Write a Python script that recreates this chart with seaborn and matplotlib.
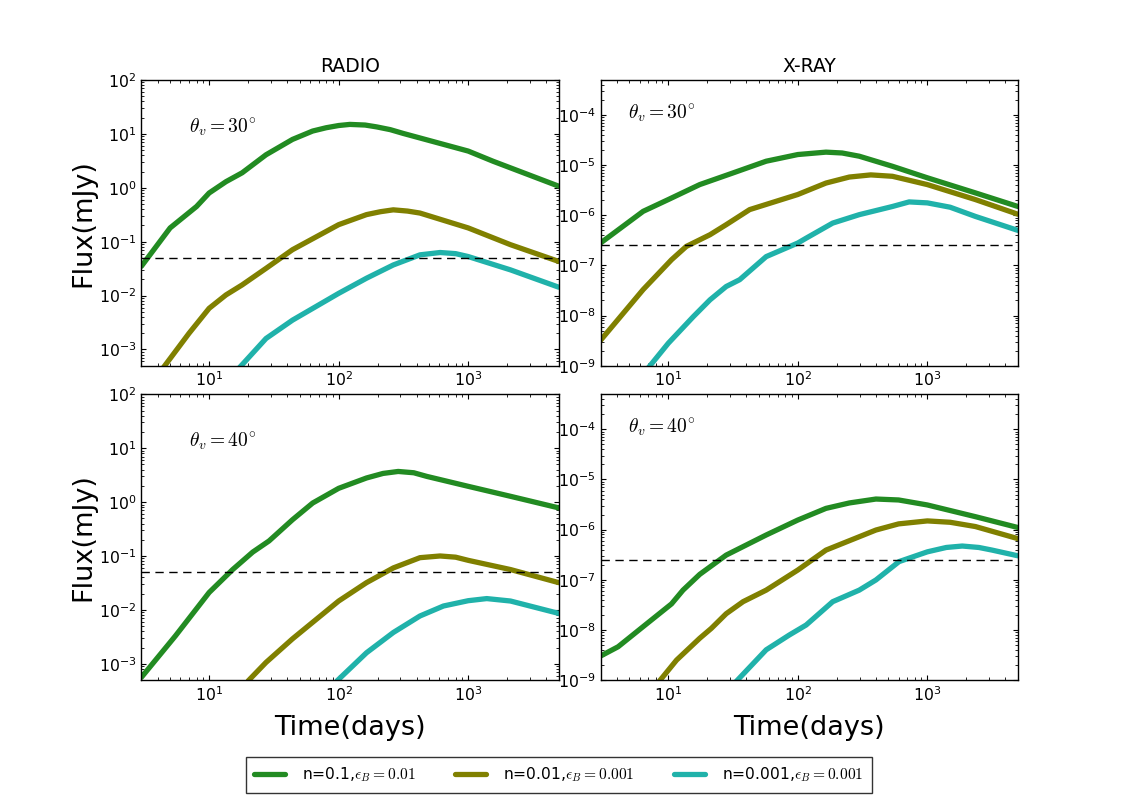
import numpy as np
import pandas as pd
import matplotlib
matplotlib.use("Agg")
import matplotlib.pyplot as plt
import seaborn as sns
from matplotlib.lines import Line2D

# ---------------- data ----------------
series_labels = [r"n=0.1,$\epsilon_B=0.01$", r"n=0.01,$\epsilon_B=0.001$", r"n=0.001,$\epsilon_B=0.001$"]
series_colors = ["#228B22", "#808000", "#20B2AA"]
col_titles = ["RADIO", "X-RAY"]
angle_labels = [r"$\theta_v=30^{\circ}$", r"$\theta_v=40^{\circ}$"]
radio_limit = 0.05
xray_limit = 2.5e-7

# Radio, theta_v = 30 deg
r30_g_t = [3, 5, 8, 10, 13.5, 18, 27.5, 44, 63, 80, 100, 122, 160, 196, 250, 315, 1000, 1560, 2830, 5000]
r30_g_f = [0.035, 0.18, 0.45, 0.8, 1.3, 1.9, 4.1, 7.9, 11.3, 13.0, 14.3, 15, 14.6, 13.5, 12.0, 10.2, 4.8, 3.1, 1.8, 1.07]
r30_o_t = [4.4, 7, 10, 13.5, 18, 27.5, 44, 100, 164, 210, 264, 340, 424, 1000, 2120, 5000]
r30_o_f = [4.5e-4, 2.0e-3, 5.8e-3, 0.0103, 0.0158, 0.032, 0.071, 0.207, 0.318, 0.36, 0.39, 0.37, 0.34, 0.18, 0.088, 0.043]
r30_c_t = [17, 27.5, 44, 100, 164, 264, 424, 607, 800, 1000, 2120, 5000]
r30_c_f = [4.5e-4, 1.6e-3, 3.5e-3, 0.011, 0.021, 0.037, 0.057, 0.063, 0.06, 0.053, 0.030, 0.0143]

# X-ray, theta_v = 30 deg
x30_g_t = [3, 6.4, 10, 17.5, 31.6, 57, 100, 165, 220, 298, 538, 1000, 2350, 5000]
x30_g_f = [2.8e-7, 1.2e-6, 2.06e-6, 4.1e-6, 7.0e-6, 1.2e-5, 1.63e-5, 1.82e-5, 1.75e-5, 1.51e-5, 9.5e-6, 5.6e-6, 2.8e-6, 1.5e-6]
x30_o_t = [3, 6.4, 10.6, 13.8, 21, 28, 42.5, 100, 165, 250, 366, 538, 1000, 2350, 5000]
x30_o_f = [3.2e-9, 3.3e-8, 1.3e-7, 2.4e-7, 4.1e-7, 6.5e-7, 1.3e-6, 2.6e-6, 4.4e-6, 5.8e-6, 6.4e-6, 6.0e-6, 4.1e-6, 2.06e-6, 1.05e-6]
x30_c_t = [7, 10, 15.6, 21, 28, 35.6, 57, 100, 116, 186, 298, 538, 723, 1000, 1500, 2350, 5000]
x30_c_f = [9e-10, 2.8e-9, 9.5e-9, 2.06e-8, 3.8e-8, 5.2e-8, 1.5e-7, 2.8e-7, 3.5e-7, 7.0e-7, 1.03e-6, 1.5e-6, 1.85e-6, 1.77e-6, 1.45e-6, 9.5e-7, 5.0e-7]

# Radio, theta_v = 40 deg
r40_g_t = [3, 5.5, 10, 15.2, 21.7, 29, 44, 63, 100, 164, 220, 288, 380, 478, 1000, 2120, 5000]
r40_g_f = [5.6e-4, 3.3e-3, 0.021, 0.056, 0.118, 0.19, 0.47, 0.96, 1.8, 2.8, 3.4, 3.7, 3.5, 3.0, 1.96, 1.28, 0.78]
r40_o_t = [20, 27.5, 44, 100, 164, 264, 424, 607, 800, 1000, 2120, 5000]
r40_o_f = [4.8e-4, 1.06e-3, 2.9e-3, 0.0146, 0.032, 0.06, 0.093, 0.1, 0.095, 0.083, 0.056, 0.032]
r40_c_t = [97, 164, 264, 424, 644, 1000, 1390, 2120, 5000]
r40_c_f = [4.8e-4, 1.6e-3, 3.8e-3, 7.7e-3, 0.0118, 0.0148, 0.0162, 0.0146, 8.6e-3]

# X-ray, theta_v = 40 deg
x40_g_t = [3, 4.1, 6.4, 10.6, 13, 17.5, 28, 57, 100, 165, 250, 401, 600, 1000, 2350, 5000]
x40_g_f = [3.0e-9, 4.6e-9, 1.16e-8, 3.3e-8, 6.2e-8, 1.28e-7, 3.1e-7, 7.8e-7, 1.55e-6, 2.65e-6, 3.4e-6, 4.07e-6, 3.9e-6, 3.1e-6, 1.81e-6, 1.1e-6]
x40_o_t = [8.4, 11.6, 17.5, 21.5, 28, 37.8, 57, 100, 165, 401, 600, 1000, 1500, 2350, 5000]
x40_o_f = [9e-10, 2.5e-9, 6.8e-9, 1.07e-8, 2.1e-8, 3.65e-8, 6.2e-8, 1.56e-7, 3.9e-7, 9.8e-7, 1.3e-6, 1.49e-6, 1.4e-6, 1.15e-6, 6.6e-7]
x40_c_t = [33, 57, 86, 116, 186, 298, 401, 605, 1000, 1400, 1860, 2500, 3160, 5000]
x40_c_f = [9e-10, 4.0e-9, 7.9e-9, 1.25e-8, 3.65e-8, 6.2e-8, 9.9e-8, 2.3e-7, 3.6e-7, 4.4e-7, 4.7e-7, 4.4e-7, 3.9e-7, 3.0e-7]

panels = [
    [[(r30_g_t, r30_g_f), (r30_o_t, r30_o_f), (r30_c_t, r30_c_f)],
     [(x30_g_t, x30_g_f), (x30_o_t, x30_o_f), (x30_c_t, x30_c_f)]],
    [[(r40_g_t, r40_g_f), (r40_o_t, r40_o_f), (r40_c_t, r40_c_f)],
     [(x40_g_t, x40_g_f), (x40_o_t, x40_o_f), (x40_c_t, x40_c_f)]],
]

# ---------------- style ----------------
sns.set_theme(style="ticks")
plt.rcParams.update({
    "font.family": ["DejaVu Sans"],
    "mathtext.fontset": "cm",
    "axes.unicode_minus": False,
    "text.color": "black", "axes.labelcolor": "black",
    "xtick.direction": "in", "ytick.direction": "in",
    "xtick.top": True, "ytick.right": True,
    "xtick.major.size": 3.5, "ytick.major.size": 3.5,
    "xtick.minor.size": 2.0, "ytick.minor.size": 2.0,
    "xtick.major.width": 0.8, "ytick.major.width": 0.8,
    "xtick.minor.width": 0.6, "ytick.minor.width": 0.6,
    "xtick.labelsize": 11.3, "ytick.labelsize": 11.3,
    "axes.edgecolor": "black", "axes.linewidth": 1.0,
    "xtick.color": "black", "ytick.color": "black",
})

fig, axes = plt.subplots(2, 2, figsize=(11.31, 8.0), dpi=100)
fig.subplots_adjust(left=0.125, right=0.9, top=0.9, bottom=0.15, wspace=0.1, hspace=0.1)

for r in range(2):
    for c in range(2):
        ax = axes[r, c]
        for k, (t, f) in enumerate(panels[r][c]):
            df = pd.DataFrame({"t": t, "f": f})
            sns.lineplot(data=df, x="t", y="f", ax=ax, color=series_colors[k],
                         linewidth=3.8, legend=False, sort=False)
        ax.set_xscale("log")
        ax.set_yscale("log")
        ax.set_xlim(3, 5000)
        if c == 0:
            ax.set_ylim(5e-4, 100)
            ax.axhline(radio_limit, color="black", ls="--", lw=1.0, dashes=(6, 4))
            ax.set_ylabel("Flux(mJy)", fontsize=19.5, color="black", labelpad=2)
            ax.text(0.115, 0.835, angle_labels[r], transform=ax.transAxes,
                    fontsize=14, va="center", ha="left", color="black")
        else:
            ax.set_ylim(1e-9, 5e-4)
            ax.axhline(xray_limit, color="black", ls="--", lw=1.0, dashes=(6, 4))
            ax.set_ylabel("")
            ax.text(0.065, 0.885, angle_labels[r], transform=ax.transAxes,
                    fontsize=14, va="center", ha="left", color="black")
        if r == 0:
            ax.set_title(col_titles[c], fontsize=13.5, color="black")
            ax.set_xlabel("")
        else:
            ax.set_xlabel("Time(days)", fontsize=19.5, color="black", labelpad=8)
        ax.tick_params(which="both", top=True, right=True, direction="in")

handles = [Line2D([0], [0], color=series_colors[k], lw=3.8) for k in range(3)]
leg = fig.legend(handles, series_labels, loc="center", bbox_to_anchor=(0.494, 0.0315),
                 ncol=3, frameon=True, fancybox=False, edgecolor="black",
                 fontsize=11.2, columnspacing=2.5, handlelength=2.0,
                 handletextpad=1.1, borderpad=0.55)
leg.get_frame().set_linewidth(1.0)
for txt in leg.get_texts():
    txt.set_color("black")

fig.savefig("out.png", dpi=100, facecolor="white")
